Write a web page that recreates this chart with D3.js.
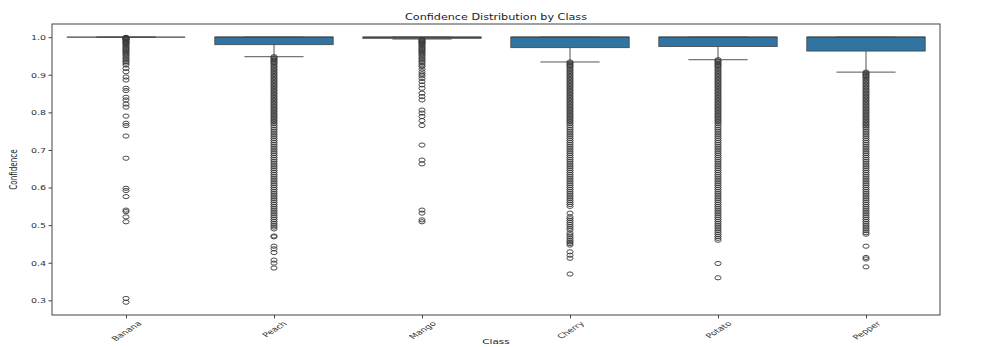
<!DOCTYPE html>
<html><head><meta charset="utf-8">
<script src="https://cdn.jsdelivr.net/npm/d3@7"></script>
<style>body{margin:0;background:#fff}svg{display:block}text{font-family:"DejaVu Sans",sans-serif}</style>
</head><body><svg id="c" width="1002" height="347"></svg>
<script>
const classes = ["Banana","Peach","Mango","Cherry","Potato","Pepper"];
const q1 = [1.0,0.98,0.997,0.972,0.975,0.963];
const median = [1.0,1.0,1.0,1.0,1.0,1.0];
const q3 = [1.0,1.0,1.0,1.0,1.0,1.0];
const whiskerLow = [1.0,0.948,0.995,0.934,0.94,0.907];
const whiskerHigh = [1.0,1.0,1.0,1.0,1.0,1.0];
const yTicks = [0.3,0.4,0.5,0.6,0.7,0.8,0.9,1.0];

const bananaOut = [0.9995,0.999,0.998,0.997,0.996,0.995,0.994,0.992,0.99,0.988,0.986,0.984,0.982,0.979,0.976,0.973,0.97,0.967,0.964,0.961,0.958,0.955,0.951,0.947,0.943,0.939,0.935,0.931,0.926,0.917,0.908,0.894,0.886,0.864,0.858,0.84,0.833,0.822,0.814,0.79,0.771,0.765,0.737,0.678,0.598,0.592,0.576,0.54,0.536,0.522,0.509,0.305,0.295];
const peachOut = [0.948,0.945,0.942,0.939,0.936,0.933,0.93,0.926,0.922,0.918,0.914,0.91,0.906,0.902,0.898,0.894,0.89,0.886,0.882,0.878,0.874,0.87,0.866,0.862,0.858,0.854,0.85,0.846,0.842,0.838,0.834,0.83,0.826,0.822,0.818,0.814,0.81,0.806,0.802,0.798,0.794,0.79,0.786,0.782,0.778,0.774,0.77,0.765,0.76,0.755,0.75,0.745,0.74,0.735,0.73,0.725,0.72,0.715,0.71,0.705,0.7,0.695,0.69,0.685,0.68,0.675,0.67,0.665,0.66,0.655,0.65,0.645,0.64,0.635,0.63,0.625,0.62,0.615,0.61,0.605,0.6,0.595,0.59,0.585,0.58,0.575,0.57,0.565,0.56,0.555,0.55,0.545,0.54,0.535,0.53,0.525,0.52,0.515,0.51,0.505,0.5,0.495,0.49,0.471,0.469,0.444,0.437,0.427,0.407,0.399,0.386];
const mangoOut = [0.994,0.992,0.99,0.988,0.986,0.984,0.982,0.979,0.976,0.973,0.97,0.967,0.964,0.961,0.958,0.955,0.951,0.947,0.943,0.939,0.935,0.931,0.926,0.922,0.915,0.908,0.902,0.897,0.89,0.882,0.873,0.864,0.851,0.842,0.833,0.806,0.798,0.789,0.778,0.765,0.713,0.673,0.663,0.54,0.532,0.514,0.509];
const cherryOut = [0.934,0.931,0.928,0.925,0.922,0.918,0.914,0.91,0.906,0.902,0.898,0.894,0.89,0.886,0.882,0.878,0.874,0.87,0.866,0.862,0.858,0.854,0.85,0.846,0.842,0.838,0.834,0.83,0.826,0.822,0.818,0.814,0.81,0.806,0.802,0.798,0.794,0.79,0.786,0.782,0.778,0.774,0.77,0.765,0.76,0.755,0.75,0.745,0.74,0.735,0.73,0.725,0.72,0.715,0.71,0.705,0.7,0.695,0.69,0.685,0.68,0.675,0.67,0.665,0.66,0.655,0.65,0.645,0.64,0.635,0.63,0.625,0.62,0.615,0.61,0.605,0.6,0.595,0.59,0.585,0.58,0.575,0.57,0.565,0.56,0.555,0.55,0.532,0.522,0.517,0.512,0.507,0.502,0.497,0.492,0.487,0.479,0.474,0.469,0.464,0.459,0.455,0.451,0.447,0.429,0.42,0.412,0.37];
const potatoOut = [0.94,0.937,0.934,0.931,0.928,0.925,0.922,0.918,0.914,0.91,0.906,0.902,0.898,0.894,0.89,0.886,0.882,0.878,0.874,0.87,0.866,0.862,0.858,0.854,0.85,0.846,0.842,0.838,0.834,0.83,0.826,0.822,0.818,0.814,0.81,0.806,0.802,0.798,0.794,0.79,0.786,0.782,0.778,0.774,0.77,0.765,0.76,0.755,0.75,0.745,0.74,0.735,0.73,0.725,0.72,0.715,0.71,0.705,0.7,0.695,0.69,0.685,0.68,0.675,0.67,0.665,0.66,0.655,0.65,0.645,0.64,0.635,0.63,0.625,0.62,0.615,0.61,0.605,0.6,0.595,0.59,0.585,0.58,0.575,0.57,0.565,0.56,0.555,0.55,0.545,0.54,0.535,0.53,0.525,0.52,0.515,0.51,0.505,0.5,0.495,0.49,0.485,0.48,0.475,0.47,0.465,0.46,0.398,0.36];
const pepperOut = [0.907,0.904,0.901,0.898,0.895,0.892,0.888,0.884,0.88,0.876,0.872,0.868,0.864,0.86,0.856,0.852,0.848,0.844,0.84,0.836,0.832,0.828,0.824,0.82,0.816,0.812,0.808,0.804,0.8,0.796,0.792,0.788,0.784,0.78,0.776,0.772,0.768,0.764,0.76,0.755,0.75,0.745,0.74,0.735,0.73,0.725,0.72,0.715,0.71,0.705,0.7,0.695,0.69,0.685,0.68,0.675,0.67,0.665,0.66,0.655,0.65,0.645,0.64,0.635,0.63,0.625,0.62,0.615,0.61,0.605,0.6,0.595,0.59,0.585,0.58,0.575,0.57,0.565,0.56,0.555,0.55,0.545,0.54,0.535,0.53,0.525,0.52,0.515,0.51,0.505,0.5,0.495,0.49,0.485,0.48,0.476,0.444,0.414,0.41,0.389];
const outliers = [bananaOut,peachOut,mangoOut,cherryOut,potatoOut,pepperOut];

const m = {left:52, right:940, top:24, bottom:315};
const SQ = 0.65; // vertical squash of text as in reference
const svg = d3.select("#c");
const x = d3.scalePoint().domain(classes).range([m.left, m.right]).padding(0.5);
const y = d3.scaleLinear().domain([0.261, 1.035]).range([m.bottom, m.top]);
const step = x.step();
const bw = step * 0.8;
const ink = "#3a3a3a";

const g = svg.append("g");
classes.forEach((c, i) => {
  const cx = x(c);
  const gg = g.append("g");
  gg.append("line").attr("x1",cx).attr("x2",cx).attr("y1",y(q1[i])).attr("y2",y(whiskerLow[i])).attr("stroke","#555").attr("stroke-width",1);
  gg.append("line").attr("x1",cx).attr("x2",cx).attr("y1",y(q3[i])).attr("y2",y(whiskerHigh[i])).attr("stroke","#555").attr("stroke-width",1);
  gg.append("line").attr("x1",cx-bw/4).attr("x2",cx+bw/4).attr("y1",y(whiskerLow[i])).attr("y2",y(whiskerLow[i])).attr("stroke","#555").attr("stroke-width",1);
  gg.append("line").attr("x1",cx-bw/4).attr("x2",cx+bw/4).attr("y1",y(whiskerHigh[i])).attr("y2",y(whiskerHigh[i])).attr("stroke","#555").attr("stroke-width",1);
  gg.append("rect").attr("x",cx-bw/2).attr("width",bw).attr("y",y(q3[i])).attr("height",Math.max(0,y(q1[i])-y(q3[i])))
    .attr("fill","#3274a1").attr("stroke","#444").attr("stroke-width",0.8);
  gg.append("line").attr("x1",cx-bw/2).attr("x2",cx+bw/2).attr("y1",y(median[i])).attr("y2",y(median[i])).attr("stroke","#444").attr("stroke-width",1.2);
  gg.selectAll("ellipse").data(outliers[i]).join("ellipse")
    .attr("cx",cx).attr("cy",d=>y(d)).attr("rx",3.1).attr("ry",2.1)
    .attr("fill","none").attr("stroke",ink).attr("stroke-width",0.9);
});

svg.append("rect").attr("x",m.left).attr("y",m.top).attr("width",m.right-m.left).attr("height",m.bottom-m.top)
  .attr("fill","none").attr("stroke","#444").attr("stroke-width",1);

const ya = svg.append("g").attr("transform",`translate(${m.left},0)`)
  .call(d3.axisLeft(y).tickValues(yTicks).tickFormat(d3.format(".1f")).tickSize(3.5).tickPadding(0));
ya.select(".domain").remove();
ya.selectAll(".tick line").attr("stroke","#444");
ya.selectAll(".tick text").attr("fill","#333").attr("font-size",9.5).attr("x",null).attr("dy",null)
  .attr("text-anchor","end").attr("dominant-baseline","central")
  .attr("transform",`translate(-6,0) scale(1,${SQ+0.05})`);

const xa = svg.append("g").attr("transform",`translate(0,${m.bottom})`)
  .call(d3.axisBottom(x).tickSize(3.5).tickPadding(0));
xa.select(".domain").remove();
xa.selectAll(".tick line").attr("stroke","#444");
xa.selectAll(".tick text").attr("fill","#333").attr("font-size",10).attr("y",null).attr("dy",null)
  .attr("text-anchor","middle").attr("dominant-baseline","central")
  .each(function(){
    const L = this.getComputedTextLength();
    const half = ((L + 6) * Math.SQRT1_2 * SQ) / 2;
    d3.select(this).attr("transform",`translate(0,${6 + half}) scale(1,${SQ}) rotate(-45)`);
  });

svg.append("text").attr("text-anchor","middle").attr("dominant-baseline","central")
  .attr("font-size",11.2).attr("fill","#222")
  .attr("transform",`translate(${(m.left+m.right)/2},17) scale(1,${SQ+0.08})`)
  .text("Confidence Distribution by Class");
svg.append("text").attr("text-anchor","middle").attr("dominant-baseline","central")
  .attr("font-size",10.5).attr("fill","#222")
  .attr("transform",`translate(${(m.left+m.right)/2},341.5) scale(1,${SQ})`)
  .text("Class");
svg.append("text").attr("text-anchor","middle").attr("dominant-baseline","central")
  .attr("font-size",10).attr("fill","#222")
  .attr("transform",`translate(14,${(m.top+m.bottom)/2}) scale(1,0.72) rotate(-90)`)
  .text("Confidence");
</script></body></html>
